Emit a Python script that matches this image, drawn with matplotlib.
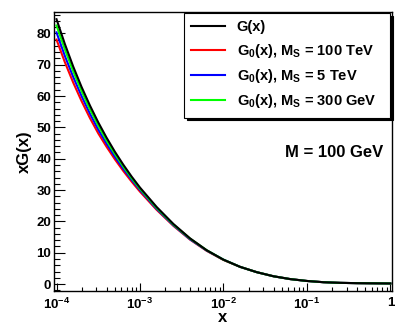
import numpy as np
import matplotlib
matplotlib.use('Agg')
import matplotlib.pyplot as plt
from matplotlib.ticker import FixedLocator, MultipleLocator, LogLocator, NullFormatter

plt.rcParams['font.family'] = 'Liberation Sans'
plt.rcParams['font.weight'] = 'bold'
plt.rcParams['mathtext.fontset'] = 'custom'
plt.rcParams['mathtext.rm'] = 'Liberation Sans:bold'
plt.rcParams['mathtext.bf'] = 'Liberation Sans:bold'
plt.rcParams['mathtext.it'] = 'Liberation Sans:bold'
plt.rcParams['mathtext.default'] = 'regular'

# log10(x) sample positions
log_x = [-4.0, -3.9, -3.8, -3.7, -3.6, -3.5, -3.4, -3.3, -3.2, -3.1, -3.0,
         -2.8, -2.6, -2.4, -2.2, -2.0, -1.8, -1.6, -1.4, -1.2, -1.0,
         -0.8, -0.6, -0.4, -0.2, 0.0]

g_full = [84.5, 76.6, 69.4, 62.9, 57.0, 51.6, 46.7, 42.2, 38.1, 34.3, 30.8,
          24.6, 19.2, 14.6, 10.8, 7.8, 5.5, 3.8, 2.5, 1.6, 1.0,
          0.6, 0.4, 0.3, 0.25, 0.2]
g0_100tev = [78.0, 70.8, 64.3, 58.4, 53.0, 48.1, 43.8, 39.8, 36.1, 32.7, 29.5,
             23.7, 18.6, 14.2, 10.6, 7.7, 5.5, 3.8, 2.5, 1.6, 1.0,
             0.6, 0.4, 0.3, 0.25, 0.2]
g0_5tev = [80.3, 72.8, 66.1, 60.0, 54.4, 49.3, 44.8, 40.6, 36.8, 33.3, 30.0,
           24.0, 18.8, 14.3, 10.7, 7.8, 5.5, 3.8, 2.5, 1.6, 1.0,
           0.6, 0.4, 0.3, 0.25, 0.2]
g0_300gev = [82.5, 74.9, 67.9, 61.6, 55.8, 50.6, 45.8, 41.5, 37.5, 33.8, 30.4,
             24.3, 19.0, 14.5, 10.8, 7.8, 5.5, 3.8, 2.5, 1.6, 1.0,
             0.6, 0.4, 0.3, 0.25, 0.2]

labels = ['G(x)',
          r'G$_{0}$(x), M$_{S}$ = 100 TeV',
          r'G$_{0}$(x), M$_{S}$ = 5 TeV',
          r'G$_{0}$(x), M$_{S}$ = 300 GeV']

x_ticks = [1e-4, 1e-3, 1e-2, 1e-1, 1]
x_tick_labels = [r'$10^{-4}$', r'$10^{-3}$', r'$10^{-2}$', r'$10^{-1}$', '1']

x = 10 ** np.array(log_x)

fig = plt.figure(figsize=(4.03, 3.32), dpi=100)
ax = fig.add_axes([54 / 403, 41 / 332, 338 / 403, 279 / 332])

h_red, = ax.plot(x, g0_100tev, color='#ff0000', lw=1.5)
h_blue, = ax.plot(x, g0_5tev, color='#0000ff', lw=1.5)
h_green, = ax.plot(x, g0_300gev, color='#00ff00', lw=1.5)
h_black, = ax.plot(x, g_full, color='black', lw=1.5)

ax.set_xscale('log')
ax.set_xlim(10 ** -4.03, 10 ** 0.02)
ax.set_ylim(-2.2, 86.8)

ax.xaxis.set_major_locator(FixedLocator(x_ticks))
ax.set_xticklabels(x_tick_labels)
ax.xaxis.set_minor_locator(LogLocator(base=10, subs=np.arange(2, 10)))
ax.xaxis.set_minor_formatter(NullFormatter())
ax.yaxis.set_major_locator(MultipleLocator(10))
ax.yaxis.set_minor_locator(MultipleLocator(2))

ax.tick_params(axis='x', which='major', direction='in', length=6, width=0.8,
               labelsize=9.5, pad=4, top=False)
ax.tick_params(axis='x', which='minor', direction='in', length=3, width=0.8, top=False)
ax.tick_params(axis='y', which='major', direction='in', length=8, width=0.8,
               labelsize=9.5, pad=2, right=False)
ax.tick_params(axis='y', which='minor', direction='in', length=4, width=0.8, right=False)
for s in ax.spines.values():
    s.set_linewidth(1.0)

ax.set_xlabel('x', fontsize=12, fontweight='bold', labelpad=-1)
ax.set_ylabel('xG(x)', fontsize=12, fontweight='bold', labelpad=3)

ax.text(0.973, 0.496, 'M = 100 GeV', transform=ax.transAxes, ha='right',
        va='center', fontsize=12, fontweight='bold')

leg = ax.legend([h_black, h_red, h_blue, h_green], labels,
                loc='upper left', bbox_to_anchor=(0.385, 0.996, 0.609, 0.0),
                mode='expand', fontsize=10.5, fancybox=False,
                shadow={'color': 'black', 'alpha': 1, 'ox': 2, 'oy': -2},
                framealpha=1, edgecolor='black', handlelength=2.3,
                handletextpad=0.8, labelspacing=0.5, borderpad=0.5,
                borderaxespad=0)
leg.get_frame().set_linewidth(0.8)

fig.savefig('out.png', dpi=100)
